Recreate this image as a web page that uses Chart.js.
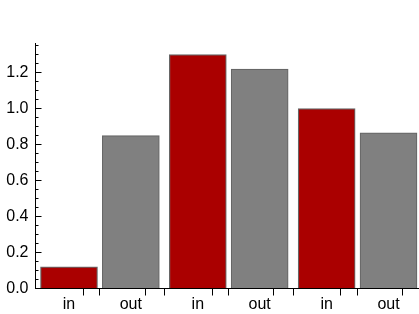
<!DOCTYPE html>
<html>
<head>
<meta charset="utf-8">
<script src="https://cdn.jsdelivr.net/npm/chart.js@4"></script>
<style>
  html, body { margin: 0; padding: 0; overflow: hidden; background: #fff; }
  #wrap { width: 422px; height: 314px; position: relative; }
</style>
</head>
<body>
<div id="wrap"><canvas id="chart"></canvas></div>
<script>
// one bar per entry, pairs of in/out in three groups
const sides = ['in', 'out', 'in', 'out', 'in', 'out'];
const groupOf = [0, 0, 1, 1, 2, 2];
const values = [0.12, 0.85, 1.30, 1.22, 1.00, 0.865];
const yMajor = [0, 0.2, 0.4, 0.6, 0.8, 1.0, 1.2];

const red = '#aa0000';
const gray = '#808080';
const pairOffset = 0.24;
const halfBar = 0.222;

const xs = sides.map((s, i) => groupOf[i] + (s === 'in' ? -pairOffset : pairOffset));
const points = xs.map((x, i) => ({ x: x, y: values[i] }));

const isMajor = v => yMajor.some(m => Math.abs(m - v) < 1e-6);

new Chart(document.getElementById('chart'), {
  type: 'bar',
  data: {
    datasets: [{
      data: points,
      backgroundColor: sides.map(s => s === 'in' ? red : gray),
      borderColor: 'rgba(0,0,0,0.6)',
      borderWidth: 1.2,
      barThickness: 57
    }]
  },
  options: {
    responsive: true,
    maintainAspectRatio: false,
    animation: false,
    layout: { padding: { top: 43, left: 0, right: 0, bottom: 0 } },
    plugins: { legend: { display: false }, tooltip: { enabled: false } },
    scales: {
      x: {
        type: 'linear',
        min: -0.5,
        max: 2.5,
        offset: false,
        afterBuildTicks: s => {
          const t = [];
          xs.forEach(x => {
            t.push({ value: x - halfBar }, { value: x }, { value: x + halfBar });
          });
          s.ticks = t;
        },
        afterFit: s => { s.height = 25.5; },
        border: { display: true, color: '#000', width: 1 },
        grid: {
          drawOnChartArea: false,
          drawTicks: true,
          tickLength: 7,
          tickColor: c => (c.index % 3 === 1 ? 'rgba(0,0,0,0)' : '#000')
        },
        ticks: {
          autoSkip: false,
          maxRotation: 0,
          padding: -1,
          color: '#000',
          font: { family: 'Liberation Sans, Arial, sans-serif', size: 16 },
          callback: (v, i) => (i % 3 === 1 ? sides[Math.floor(i / 3)] : '')
        }
      },
      y: {
        min: 0,
        max: 1.365,
        afterBuildTicks: s => {
          const t = [];
          for (let k = 0; k <= 27; k++) t.push({ value: Math.round(k * 5) / 100 });
          s.ticks = t;
        },
        afterFit: s => { s.width = 35.5; },
        border: { display: true, color: '#000', width: 1 },
        grid: {
          drawOnChartArea: false,
          drawTicks: true,
          tickLength: -6,
          tickColor: '#000',
          tickBorderDash: c => (c.tick && isMajor(c.tick.value) ? [] : [0, 3, 3, 100])
        },
        ticks: {
          autoSkip: false,
          padding: 13,
          color: '#000',
          font: { family: 'Liberation Sans, Arial, sans-serif', size: 16 },
          callback: v => (isMajor(v) ? v.toFixed(1) : '')
        }
      }
    }
  }
});
</script>
</body>
</html>
